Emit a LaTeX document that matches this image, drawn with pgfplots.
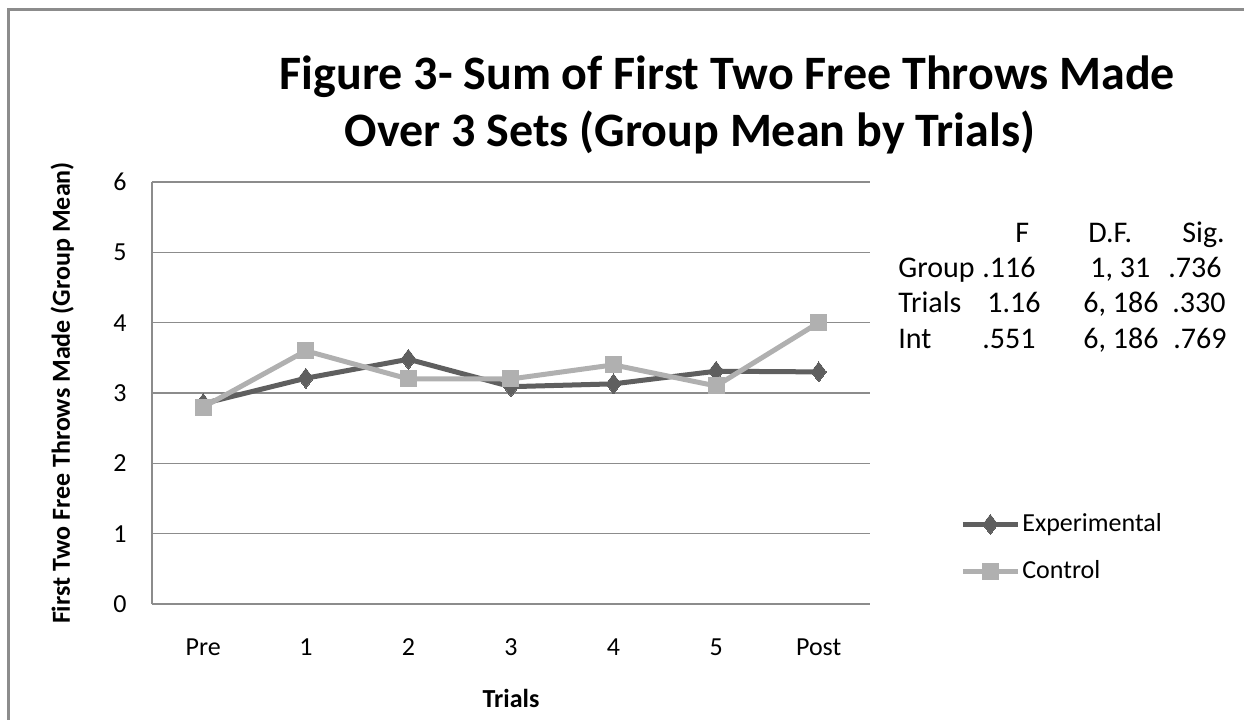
\documentclass[border=0pt]{standalone}
\usepackage{pgfplots}
\pgfplotsset{compat=1.18}
\usepackage{fontspec}
\setmainfont{Carlito}
\definecolor{expc}{HTML}{5F5F5F}
\definecolor{conc}{HTML}{B0B0B0}
\definecolor{gridc}{HTML}{8C8C8C}
\begin{document}
\begin{tikzpicture}
\begin{scope}[x=0.5pt,y=-0.5pt,shift={(0pt,359.5pt)}]
\useasboundingbox (0,0) rectangle (1244,719);
\draw[gridc, line width=1.5pt] (8,740) -- (8,10) -- (1260,10);
\node[anchor=base, font=\bfseries\fontsize{24}{28}\selectfont, inner sep=0pt] at (727.5,90) {Figure 3- Sum of First Two Free Throws Made};
\node[anchor=base, font=\bfseries\fontsize{24}{28}\selectfont, inner sep=0pt] at (690,147) {Over 3 Sets (Group Mean by Trials)};
\begin{scope}[every node/.style={anchor=base west, inner sep=0pt, font=\fontsize{15}{17}\selectfont}]
\node at (1015,243) {F};
\node at (1088,243) {D.F.};
\node at (1182,243) {Sig.};
\node at (898,278) {Group};
\node at (982,278) {.116};
\node at (1090,278) {1, 31};
\node at (1168,278) {.736};
\node at (898,313) {Trials};
\node at (987,313) {1.16};
\node at (1083,313) {6, 186};
\node at (1172,313) {.330};
\node at (898,348) {Int};
\node at (982,348) {.551};
\node at (1083,348) {6, 186};
\node at (1173,348) {.769};
\end{scope}
\end{scope}
\begin{axis}[
  at={(76pt,57.5pt)}, anchor=south west,
  scale only axis, width=359pt, height=211pt,
  xmin=-0.5, xmax=6.5, ymin=0, ymax=6,
  xtick={0,1,2,3,4,5,6}, xticklabels={Pre,1,2,3,4,5,Post},
  ytick={0,1,2,3,4,5,6},
  /pgf/number format/assume math mode=true,
  major tick length=0pt,
  axis lines=left,
  axis line style={-, draw=gridc, line width=0.6pt},
  ymajorgrids, grid style={draw=gridc, line width=0.6pt},
  tick label style={font=\fontsize{13}{15}\selectfont},
  yticklabel style={anchor=east, inner sep=0pt},
  yticklabel shift=12.5pt,
  xticklabel style={anchor=base, inner sep=0pt, yshift=-25.5pt},
  xlabel={Trials},
  ylabel={First Two Free Throws Made (Group Mean)},
  label style={font=\bfseries\fontsize{13}{15}\selectfont},
  xlabel style={at={(axis description cs:0.5,0)}, anchor=base, inner sep=0pt, yshift=-51.5pt},
  ylabel style={at={(axis description cs:0,0.5)}, anchor=base, inner sep=0pt, yshift=41pt},
  legend style={at={(axis cs:7.377,1.294)}, anchor=north west, draw=none, fill=none,
    font=\fontsize{13}{15}\selectfont, row sep=11.5pt, column sep=1pt, inner sep=0pt,
    nodes={inner sep=0pt, text height=9pt, text depth=3pt, anchor=base west}},
  legend cell align=left,
  legend image code/.code={\draw[#1, mark repeat=2, mark phase=2] plot coordinates {(0pt,3.5pt) (13.75pt,3.5pt) (27.5pt,3.5pt)};},
  clip=false,
]
\addplot[expc, line width=2.5pt, mark=diamond*, mark size=5pt, mark options={solid, fill=expc, draw=expc, line width=0pt}]
  coordinates {(0,2.85) (1,3.21) (2,3.48) (3,3.09) (4,3.13) (5,3.31) (6,3.30)};
\addlegendentry{Experimental}
\addplot[conc, line width=2.5pt, mark=square*, mark size=4pt, mark options={solid, fill=conc, draw=conc, line width=0pt}]
  coordinates {(0,2.80) (1,3.60) (2,3.20) (3,3.20) (4,3.40) (5,3.10) (6,4.00)};
\addlegendentry{Control}
\end{axis}
\end{tikzpicture}
\end{document}
